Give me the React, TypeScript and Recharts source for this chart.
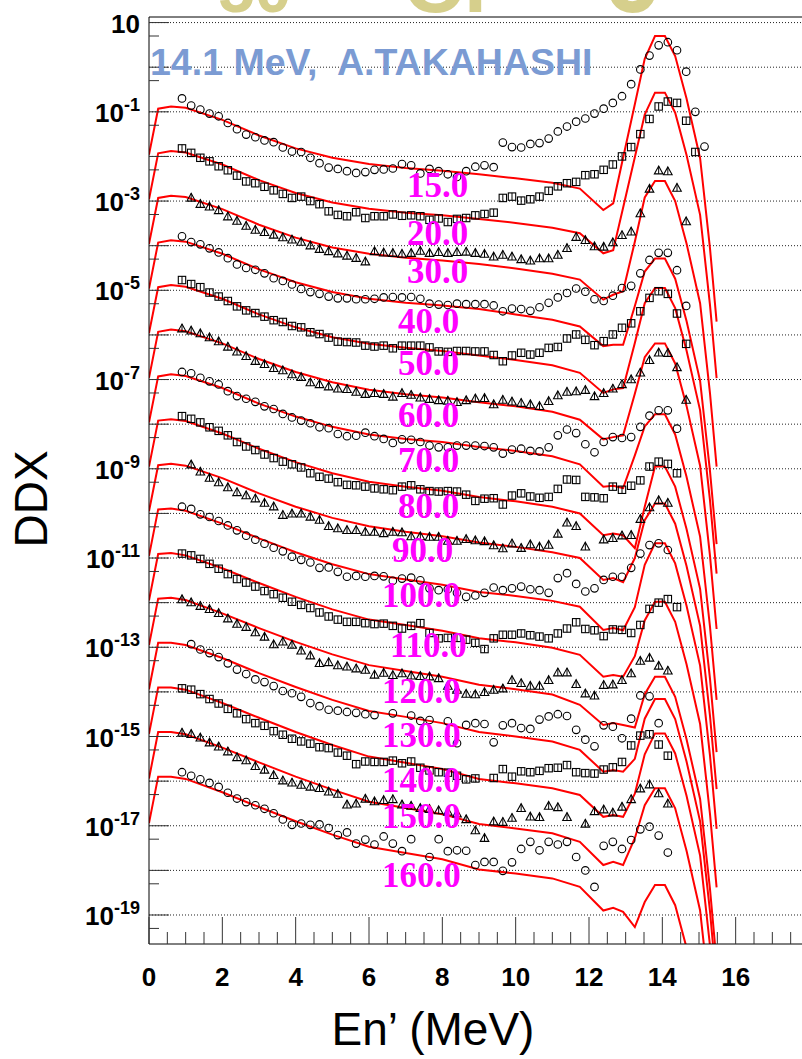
import React from "react";
import {
  ComposedChart,
  Line,
  ReferenceLine,
  Scatter,
  XAxis,
  YAxis,
} from "recharts";

// angle labels, one spectrum each (offset by one decade per angle)
const ANGLES = ["15.0", "20.0", "30.0", "40.0", "50.0", "60.0", "70.0", "80.0",
  "90.0", "100.0", "110.0", "120.0", "130.0", "140.0", "150.0", "160.0"];
const MARKERS = ["circle", "square", "triangle", "circle", "square", "triangle", "circle", "square",
  "triangle", "circle", "square", "triangle", "circle", "square", "triangle", "circle"];

// calculation (red lines): energies and log10(DDX) as plotted
const CALC_E = [0, 0.25, 0.6, 1, 2, 3, 4, 5, 6, 7, 8, 9, 10, 11, 11.75, 12.39, 12.66, 12.93, 13.25, 13.52, 13.8, 14.07, 14.35, 14.66, 15.03, 15.3, 15.48];
const CALC_015 = [-1.96, -0.93, -0.88, -0.91, -1.18, -1.53, -1.82, -2.03, -2.17, -2.26, -2.32, -2.40, -2.49, -2.59, -2.72, -3.20, -3.05, -2.03, -0.83, 0.19, 0.70, 0.70, 0.25, -0.70, -2.04, -4.06, -5.70];
const CALC_020 = [-2.96, -1.93, -1.88, -1.91, -2.18, -2.53, -2.82, -3.03, -3.17, -3.26, -3.32, -3.40, -3.49, -3.60, -3.72, -4.17, -4.10, -3.15, -2.02, -1.06, -0.57, -0.57, -1.02, -1.97, -3.31, -5.33, -6.97];
const CALC_030 = [-3.96, -2.93, -2.88, -2.91, -3.18, -3.53, -3.82, -4.04, -4.18, -4.27, -4.33, -4.41, -4.51, -4.63, -4.76, -5.21, -5.10, -5.02, -3.91, -2.92, -2.55, -2.55, -3.00, -3.95, -5.29, -7.31, -8.95];
const CALC_040 = [-4.96, -3.93, -3.88, -3.91, -4.18, -4.53, -4.82, -5.04, -5.19, -5.28, -5.34, -5.42, -5.54, -5.66, -5.81, -6.25, -6.22, -6.22, -5.35, -4.58, -4.29, -4.29, -4.74, -5.69, -7.03, -9.05, -10.69];
const CALC_050 = [-5.96, -4.93, -4.88, -4.92, -5.19, -5.54, -5.83, -6.05, -6.20, -6.29, -6.36, -6.46, -6.56, -6.68, -6.85, -7.30, -7.22, -7.19, -6.18, -5.29, -4.95, -4.95, -5.40, -6.35, -7.69, -9.71, -11.35];
const CALC_060 = [-6.96, -5.93, -5.88, -5.92, -6.19, -6.54, -6.83, -7.06, -7.23, -7.33, -7.40, -7.51, -7.60, -7.72, -7.90, -8.34, -8.29, -8.25, -7.32, -6.50, -6.19, -6.19, -6.64, -7.59, -8.93, -10.95, -12.59];
const CALC_070 = [-7.96, -6.93, -6.88, -6.92, -7.19, -7.54, -7.83, -8.06, -8.23, -8.33, -8.40, -8.51, -8.60, -8.72, -8.90, -9.40, -9.38, -9.43, -8.70, -8.05, -7.78, -7.78, -8.23, -9.18, -10.52, -12.54, -14.18];
const CALC_080 = [-8.95, -7.92, -7.89, -7.93, -8.21, -8.55, -8.85, -9.10, -9.29, -9.40, -9.49, -9.63, -9.73, -9.85, -10.00, -10.49, -10.45, -10.49, -10.78, -9.85, -8.95, -8.95, -9.40, -10.35, -11.69, -13.71, -15.35];
const CALC_090 = [-9.95, -8.92, -8.89, -8.93, -9.21, -9.55, -9.85, -10.10, -10.29, -10.41, -10.51, -10.65, -10.75, -10.87, -11.00, -11.49, -11.45, -11.54, -11.00, -10.15, -9.78, -9.78, -10.23, -11.18, -12.52, -14.54, -16.18];
const CALC_100 = [-10.95, -9.91, -9.89, -9.94, -10.23, -10.56, -10.87, -11.14, -11.36, -11.48, -11.60, -11.76, -11.85, -11.96, -12.09, -12.61, -12.57, -12.62, -12.10, -11.15, -10.67, -10.67, -11.12, -12.07, -13.41, -15.43, -17.07];
const CALC_110 = [-11.95, -10.91, -10.89, -10.94, -11.23, -11.56, -11.87, -12.15, -12.38, -12.50, -12.63, -12.80, -12.89, -13.01, -13.17, -13.66, -13.62, -13.66, -13.20, -12.40, -11.98, -11.98, -12.43, -13.38, -14.72, -16.74, -18.38];
const CALC_120 = [-12.95, -11.91, -11.89, -11.94, -12.24, -12.57, -12.88, -13.16, -13.40, -13.53, -13.66, -13.84, -13.94, -14.06, -14.29, -14.74, -14.70, -14.74, -14.80, -14.05, -13.66, -13.66, -14.11, -15.06, -16.40, -18.42, -20.06];
const CALC_130 = [-13.94, -12.90, -12.90, -12.95, -13.24, -13.58, -13.89, -14.18, -14.43, -14.56, -14.70, -14.90, -15.00, -15.11, -15.30, -15.79, -15.75, -15.79, -15.50, -14.60, -14.16, -14.16, -14.61, -15.56, -16.90, -18.92, -20.56];
const CALC_140 = [-14.94, -13.90, -13.90, -13.95, -14.25, -14.58, -14.90, -15.19, -15.45, -15.59, -15.73, -15.95, -16.05, -16.16, -16.31, -16.80, -16.76, -16.80, -16.28, -15.40, -14.93, -14.93, -15.38, -16.33, -17.67, -19.69, -21.33];
const CALC_150 = [-15.94, -14.90, -14.90, -14.95, -15.25, -15.58, -15.90, -16.19, -16.46, -16.60, -16.74, -16.96, -17.06, -17.17, -17.36, -17.88, -17.81, -17.88, -17.28, -16.54, -16.16, -16.16, -16.61, -17.56, -18.90, -20.92, -22.56];
const CALC_160 = [-16.94, -15.90, -15.90, -15.95, -16.25, -16.58, -16.90, -17.20, -17.47, -17.61, -17.75, -17.98, -18.07, -18.18, -18.37, -18.90, -18.84, -18.93, -19.27, -18.71, -18.33, -18.33, -18.78, -19.73, -21.07, -23.09, -24.73];

// measurement (open markers): energies and log10(DDX) as plotted, null = no point
const EXP_E = [0.9, 1.15, 1.4, 1.65, 1.9, 2.15, 2.4, 2.65, 2.9, 3.15, 3.4, 3.65, 3.9, 4.15, 4.4, 4.65, 4.9, 5.15, 5.4, 5.65,
  5.9, 6.15, 6.4, 6.65, 6.9, 7.15, 7.4, 7.65, 7.9, 8.15, 8.4, 8.65, 8.9, 9.15, 9.4, 9.65, 9.9, 10.15, 10.4, 10.65,
  10.9, 11.15, 11.4, 11.65, 11.9, 12.15, 12.4, 12.65, 12.9, 13.15, 13.4, 13.65, 13.9, 14.15, 14.4, 14.65, 14.9, 15.15];
const EXP_015 = [-0.70, -0.86, -0.95, -1.04, -1.10, -1.25, -1.39, -1.51, -1.57, -1.64, -1.68, -1.80, -1.89, -1.90, -2.03, -2.15, -2.25, -2.28, -2.33, -2.37,
  -2.35, -2.30, -2.29, -2.27, -2.17, -2.20, -2.38, -2.28, -2.33, -2.40, -2.46, -2.33, -2.23, -2.20, -2.24, -1.69, -1.79, -1.80, -1.72, -1.70,
  -1.60, -1.44, -1.33, -1.22, -1.15, -1.04, -0.93, -0.80, -0.65, -0.38, -0.05, 0.26, 0.49, 0.56, 0.38, -0.10, -1.00, -1.78];
const EXP_020 = [-1.82, -1.92, -2.03, -2.11, -2.22, -2.31, -2.43, -2.56, -2.60, -2.68, -2.76, -2.84, -2.93, -2.90, -3.00, -3.07, -3.23, -3.31, -3.34, -3.25,
  -3.38, -3.34, -3.34, -3.30, -3.33, -3.32, -3.34, -3.42, -3.39, -3.47, -3.40, -3.38, -3.32, -3.29, -3.26, -2.93, -2.90, -2.99, -2.96, -2.90,
  -2.77, -2.67, -2.60, -2.57, -2.42, -2.40, -2.30, -2.18, -2.00, -1.79, -1.50, -1.16, -0.88, -0.77, -0.80, -1.20, -1.90, null];
const EXP_030 = [null, -2.92, -3.06, -3.12, -3.20, -3.34, -3.44, -3.55, -3.64, -3.69, -3.75, -3.81, -3.86, -3.91, -3.99, -4.07, -4.12, -4.17, -4.22, -4.27,
  -4.35, -4.12, -4.15, -4.16, -4.18, -4.16, -4.11, -4.16, -4.14, -4.16, -4.14, -4.13, -4.16, -4.18, -4.24, -4.20, -4.24, -4.30, -4.33, -4.28,
  -4.28, -4.20, -4.05, -3.80, -3.87, -4.01, -4.02, -3.92, -3.76, -3.68, -3.27, -2.72, -2.31, -2.33, -2.70, -3.45, null, null];
const EXP_040 = [-3.79, -3.92, -3.97, -4.06, -4.15, -4.28, -4.42, -4.50, -4.54, -4.62, -4.73, -4.79, -4.87, -4.97, -5.04, -5.08, -5.14, -5.18, -5.18, -5.20,
  -5.20, -5.19, -5.16, -5.15, -5.16, -5.15, -5.19, -5.30, -5.32, -5.33, -5.30, -5.31, -5.31, -5.31, -5.34, -5.47, -5.41, -5.42, -5.46, -5.38,
  -5.28, -5.16, -5.06, -4.96, -5.03, -5.20, -5.24, -5.12, -4.95, -4.90, -4.62, -4.32, -4.16, -4.16, -4.55, -5.35, null, null];
const EXP_050 = [-4.77, -4.86, -4.93, -5.05, -5.14, -5.24, -5.36, -5.45, -5.51, -5.59, -5.67, -5.71, -5.80, -5.83, -5.94, -5.98, -6.06, -6.15, -6.16, -6.17,
  -6.24, -6.26, -6.24, -6.30, -6.24, -6.24, -6.24, -6.28, -6.37, -6.38, -6.36, -6.36, -6.37, -6.37, -6.45, -6.59, -6.46, -6.40, -6.44, -6.40,
  -6.29, -6.27, -6.08, -5.99, -6.11, -6.23, -6.14, -5.99, -5.84, -5.74, -5.47, -5.17, -5.02, -5.08, -5.52, -6.20, null, null];
const EXP_060 = [-5.85, -5.90, -5.96, -6.05, -6.14, -6.26, -6.37, -6.47, -6.58, -6.65, -6.74, -6.79, -6.88, -6.94, -7.06, -7.10, -7.15, -7.20, -7.21, -7.27,
  -7.32, -7.30, -7.32, -7.38, -7.30, -7.34, -7.40, -7.43, -7.46, -7.47, -7.50, -7.46, -7.42, -7.41, -7.55, -7.45, -7.49, -7.52, -7.55, -7.59,
  -7.48, -7.35, -7.27, -7.26, -7.23, -7.37, -7.30, -7.20, -7.10, -6.99, -6.84, -6.56, -6.39, -6.40, -6.72, -7.45, null, null];
const EXP_070 = [-6.83, -6.86, -6.96, -7.04, -7.11, -7.26, -7.37, -7.43, -7.50, -7.60, -7.66, -7.77, -7.85, -7.92, -7.98, -8.07, -8.09, -8.22, -8.27, -8.26,
  -8.19, -8.27, -8.33, -8.42, -8.34, -8.35, -8.40, -8.48, -8.52, -8.52, -8.48, -8.48, -8.48, -8.49, -8.52, -8.66, -8.57, -8.55, -8.60, -8.61,
  -8.52, -8.25, -8.12, -8.20, -8.45, -8.63, -8.40, -8.29, -8.31, -8.29, -8.06, -7.81, -7.69, -7.69, -8.10, null, null, null];
const EXP_080 = [-7.82, -7.88, -7.96, -8.07, -8.15, -8.25, -8.40, -8.50, -8.58, -8.68, -8.76, -8.84, -8.90, -8.97, -9.10, -9.18, -9.22, -9.30, -9.36, -9.37,
  -9.40, -9.44, -9.46, -9.48, -9.40, -9.37, -9.46, -9.50, -9.51, -9.50, -9.51, -9.58, -9.72, -9.67, -9.66, -9.80, -9.60, -9.55, -9.62, -9.65,
  -9.63, -9.45, -9.24, -9.25, -9.63, -9.64, -9.66, -9.40, -9.47, -9.38, -9.26, -8.95, -8.84, -8.89, -9.10, null, null, null];
const EXP_090 = [null, -8.90, -9.06, -9.20, -9.30, -9.41, -9.52, -9.59, -9.66, -9.76, -9.84, -10.03, -10.00, -10.00, -10.07, -10.14, -10.28, -10.33, -10.37, -10.37,
  -10.41, -10.41, -10.44, -10.41, -10.42, -10.51, -10.51, -10.52, -10.52, -10.61, -10.61, -10.57, -10.60, -10.62, -10.71, -10.78, -10.67, -10.77, -10.69, -10.74,
  -10.70, -10.45, -10.20, -10.28, -10.74, null, -10.58, -10.55, -10.49, -10.48, -10.12, -9.86, -9.70, -9.76, null, null, null, null];
const EXP_100 = [-9.85, -9.90, -10.02, -10.08, -10.17, -10.27, -10.38, -10.50, -10.59, -10.68, -10.77, -10.85, -10.97, -11.04, -11.10, -11.22, -11.21, -11.31, -11.42, -11.40,
  -11.42, -11.40, -11.41, -11.51, -11.46, -11.44, -11.50, -11.68, -11.72, -11.70, -11.78, -11.87, -11.84, -11.78, -11.66, -11.72, -11.68, -11.64, -11.70, -11.72,
  -11.78, -11.45, -11.34, -11.58, -11.75, -11.68, -11.49, -11.42, -11.42, -11.22, -10.90, -10.71, -10.67, -10.82, null, null, null, null];
const EXP_110 = [-10.90, -10.94, -11.02, -11.13, -11.24, -11.36, -11.47, -11.55, -11.64, -11.74, -11.81, -11.89, -11.98, -12.05, -12.12, -12.22, -12.31, -12.38, -12.43, -12.43,
  -12.46, -12.48, -12.47, -12.52, -12.58, -12.52, -12.46, -12.68, -12.80, -12.79, -12.79, -12.83, -12.90, -13.04, -12.80, -12.72, -12.72, -12.69, -12.73, -12.76,
  -12.80, -12.69, -12.58, -12.44, -12.59, -12.62, -12.75, -12.60, -12.61, -12.68, -12.50, -12.14, -12.00, -11.92, -12.10, null, null, null];
const EXP_120 = [-11.92, -11.99, -12.07, -12.14, -12.23, -12.35, -12.47, -12.54, -12.66, -12.76, -12.93, -12.87, -12.94, -13.07, -13.18, -13.35, -13.33, -13.40, -13.43, -13.47,
  -13.50, -13.61, -13.57, -13.62, -13.58, -13.63, -13.64, -13.65, -13.69, -13.86, -13.95, -14.04, -14.05, -14.00, -13.95, -13.92, -13.73, -13.80, -13.86, -13.86,
  -13.73, -13.56, -13.56, -13.82, -14.03, -14.08, -13.84, -13.83, -13.73, -13.58, -13.30, -13.23, -13.41, -13.52, null, null, null, null];
const EXP_130 = [null, -12.93, -13.05, -13.13, -13.22, -13.36, -13.50, -13.60, -13.72, -13.78, -13.87, -13.98, -14.03, -14.11, -14.25, -14.32, -14.40, -14.42, -14.45, -14.47,
  -14.50, -14.52, null, -14.48, null, -14.53, -14.65, -14.63, null, -14.66, -15.15, -14.74, -14.70, -14.72, -15.13, -14.75, -14.70, -14.81, -14.83, -14.62,
  -14.55, -14.50, -14.54, -14.85, -15.07, -15.22, -14.75, -14.78, -15.04, -14.60, -14.08, -14.10, -14.70, null, null, null, null, null];
const EXP_140 = [-13.92, -13.95, -14.05, -14.16, -14.26, -14.38, -14.48, -14.61, -14.70, -14.76, -14.88, -14.96, -15.05, -15.11, -15.16, -15.24, -15.26, -15.36, -15.43, -15.62,
  -15.56, -15.57, -15.57, -15.54, -15.60, -15.56, -15.70, -15.76, -15.80, -15.81, -15.88, -15.96, -15.94, null, -15.93, -15.73, -15.90, -15.78, -15.80, -15.77,
  -15.71, -15.70, -15.64, -15.80, -15.82, -15.83, -15.74, -15.69, -15.57, -15.20, -14.98, -14.95, -15.18, -15.43, null, null, null, null];
const EXP_150 = [-14.91, -14.94, -15.02, -15.13, -15.22, -15.33, -15.46, -15.53, -15.66, -15.74, -15.86, -15.98, -16.03, -16.08, -16.12, -16.15, -16.23, -16.28, -16.52, -16.50,
  -16.39, -16.45, -16.42, -16.40, -16.52, -16.55, -16.60, -16.62, -16.65, -16.68, -16.72, -16.85, -17.10, -17.27, -16.90, -16.91, -16.82, -16.60, -16.79, -16.80,
  -16.55, -16.58, -16.80, null, -16.95, -16.67, -16.63, -16.70, -16.57, -16.40, -16.16, -16.07, -16.27, -16.50, null, null, null, null];
const EXP_160 = [-15.80, -15.88, -15.96, -16.04, -16.13, -16.26, -16.39, -16.47, -16.54, -16.62, -16.72, -16.86, -16.98, -16.95, -16.98, -16.97, -17.05, -17.21, -17.15, -17.40,
  -17.31, -17.42, -17.24, -17.40, -17.57, -17.30, null, -17.70, -17.30, -17.57, -17.55, -17.56, -17.88, -17.81, -17.81, -18.01, -17.82, -17.52, -17.36, -17.55,
  -17.36, -17.42, -17.36, -17.70, -18.00, -18.37, -17.45, -17.36, -17.52, -17.32, -17.08, -17.02, -17.22, -17.60, null, null, null, null];

const CALC_LOGS = [CALC_015, CALC_020, CALC_030, CALC_040, CALC_050, CALC_060, CALC_070, CALC_080,
  CALC_090, CALC_100, CALC_110, CALC_120, CALC_130, CALC_140, CALC_150, CALC_160];
const EXP_LOGS = [EXP_015, EXP_020, EXP_030, EXP_040, EXP_050, EXP_060, EXP_070, EXP_080,
  EXP_090, EXP_100, EXP_110, EXP_120, EXP_130, EXP_140, EXP_150, EXP_160];

// axis ticks
const X_TICK_LABELS = [0, 2, 4, 6, 8, 10, 12, 14, 16];
const Y_LABEL_EXPONENTS = [1, -1, -3, -5, -7, -9, -11, -13, -15, -17, -19];

// angle label placement (pixels, on top of the plot)
const LABEL_POS = [
  [407, 197], [407, 245], [407, 283], [398, 333], [398, 375], [398, 427], [398, 472], [398, 518],
  [392, 562], [382, 607], [390, 657], [382, 703], [382, 747], [382, 792], [382, 828], [382, 887],
];

const SANS = "'Liberation Sans', Arial, Helvetica, sans-serif";
const SERIF = "'Liberation Serif', 'Times New Roman', serif";
const Y_MIN = Math.pow(10, -19.65);
const Y_MAX = Math.pow(10, 1.125);

const toPoints = (xs: number[], logs: (number | null)[]) =>
  xs.flatMap((e, k) => (logs[k] == null ? [] : [{ e, v: Math.pow(10, logs[k] as number) }]));

const xTicks: number[] = [];
for (let t = 0; t <= 18; t += 0.5) xTicks.push(t);

const decades: number[] = [];
for (let n = 1; n >= -19; n--) decades.push(Number("1e" + n));
const yTicks: number[] = [];
for (let n = 1; n >= -19; n--) {
  yTicks.push(Number("1e" + n));
  yTicks.push(Number("5e" + (n - 1)));
}

const renderXTick = (props: any) => {
  const { x, y, payload } = props;
  const v = payload.value;
  const major = Math.abs(v % 2) < 1e-9;
  return (
    <g>
      <line x1={x} x2={x} y1={y} y2={y - (major ? 27 : 12)} stroke="#333" strokeWidth={1} />
      {major && X_TICK_LABELS.includes(v) && (
        <text x={x} y={y + 42} textAnchor="middle" fontFamily={SANS} fontWeight="bold" fontSize={26} fill="#000">
          {v}
        </text>
      )}
    </g>
  );
};

const renderYTick = (props: any) => {
  const { x, y, payload } = props;
  const lg = Math.log10(payload.value);
  const n = Math.round(lg);
  const major = Math.abs(lg - n) < 1e-6;
  return (
    <g>
      <line x1={x} x2={x + (major ? 20 : 10)} y1={y} y2={y} stroke="#333" strokeWidth={1} />
      {major && Y_LABEL_EXPONENTS.includes(n) && (
        <text x={140} y={y + 10} textAnchor="end" fontFamily={SANS} fontWeight="bold" fontSize={26} fill="#000">
          10
          {n !== 1 && (
            <tspan dy={-11} fontSize={18}>
              {n}
            </tspan>
          )}
        </text>
      )}
    </g>
  );
};

const markerShape = (kind: string) => (p: any) => {
  const { cx, cy } = p;
  if (cx == null || cy == null) return <g />;
  if (kind === "circle") {
    return <circle cx={cx} cy={cy} r={3.8} fill="none" stroke="#000" strokeWidth={1.1} />;
  }
  if (kind === "square") {
    return (
      <g>
        <rect x={cx - 3.7} y={cy - 3.7} width={7.4} height={7.4} fill="none" stroke="#000" strokeWidth={1.1} />
        <line x1={cx} x2={cx} y1={cy - 3.7} y2={cy + 3.7} stroke="#000" strokeWidth={1} />
      </g>
    );
  }
  return (
    <g>
      <polygon
        points={`${cx},${cy - 4.2} ${cx + 4.3},${cy + 3.6} ${cx - 4.3},${cy + 3.6}`}
        fill="none"
        stroke="#000"
        strokeWidth={1.1}
      />
      <line x1={cx} x2={cx} y1={cy - 4.2} y2={cy + 3.6} stroke="#000" strokeWidth={1} />
    </g>
  );
};

export default function App() {
  return (
    <div
      style={{
        position: "absolute",
        left: 0,
        top: 0,
        width: 802,
        height: 1059,
        overflow: "hidden",
        background: "#fff",
      }}
    >
      <ComposedChart width={830} height={1059} margin={{ top: 17, right: 21, bottom: 0, left: 0 }}>
        <XAxis
          type="number"
          dataKey="e"
          domain={[0, 18]}
          allowDataOverflow
          ticks={xTicks}
          interval={0}
          tick={renderXTick}
          tickLine={false}
          tickSize={0}
          tickMargin={0}
          height={115}
          axisLine={{ stroke: "#000", strokeWidth: 1 }}
        />
        <YAxis
          type="number"
          dataKey="v"
          scale="log"
          domain={[Y_MIN, Y_MAX]}
          allowDataOverflow
          ticks={yTicks}
          interval={0}
          tick={renderYTick}
          tickLine={false}
          tickSize={0}
          tickMargin={0}
          width={149}
          axisLine={{ stroke: "#000", strokeWidth: 1 }}
        />
        {decades.map((d) => (
          <ReferenceLine key={"g" + d} y={d} stroke="#222" strokeWidth={1} strokeDasharray="1 2" />
        ))}
        <ReferenceLine y={Y_MAX} stroke="#000" strokeWidth={1} />
        {EXP_LOGS.map((logs, i) => (
          <Scatter
            key={"exp" + i}
            name={"exp " + ANGLES[i]}
            data={toPoints(EXP_E, logs)}
            shape={markerShape(MARKERS[i])}
            isAnimationActive={false}
          />
        ))}
        {CALC_LOGS.map((logs, i) => (
          <Line
            key={"calc" + i}
            name={"calc " + ANGLES[i]}
            data={toPoints(CALC_E, logs)}
            dataKey="v"
            type="linear"
            stroke="#ff0000"
            strokeWidth={2}
            dot={false}
            activeDot={false}
            isAnimationActive={false}
          />
        ))}
      </ComposedChart>

      <svg
        width={802}
        height={1059}
        style={{ position: "absolute", left: 0, top: 0, pointerEvents: "none" }}
      >
        <g fill="#d6cf8c" fontFamily={SANS} fontWeight="bold">
          <text x={218} y={12} fontSize={66}>50</text>
          <text x={403} y={12} fontSize={84}>Cr</text>
          <text x={602} y={12} fontSize={110}>0</text>
        </g>
        <text
          x={150}
          y={75}
          fontFamily={SANS}
          fontWeight="bold"
          fontSize={37.5}
          fill="#7b9bd3"
          style={{ whiteSpace: "pre" }}
        >
          {"14.1 MeV,  A.TAKAHASHI"}
        </text>
        {ANGLES.map((a, i) => (
          <text
            key={"lab" + a}
            x={LABEL_POS[i][0]}
            y={LABEL_POS[i][1]}
            fontFamily={SERIF}
            fontWeight="bold"
            fontSize={35}
            fill="#ff00ff"
          >
            {a}
          </text>
        ))}
        <text
          transform="translate(47,499) rotate(-90)"
          textAnchor="middle"
          fontFamily={SANS}
          fontSize={46}
          fill="#000"
        >
          DDX
        </text>
        <text x={433} y={1045} textAnchor="middle" fontFamily={SANS} fontSize={46} fill="#000">
          {"En\u2019 (MeV)"}
        </text>
      </svg>
    </div>
  );
}
